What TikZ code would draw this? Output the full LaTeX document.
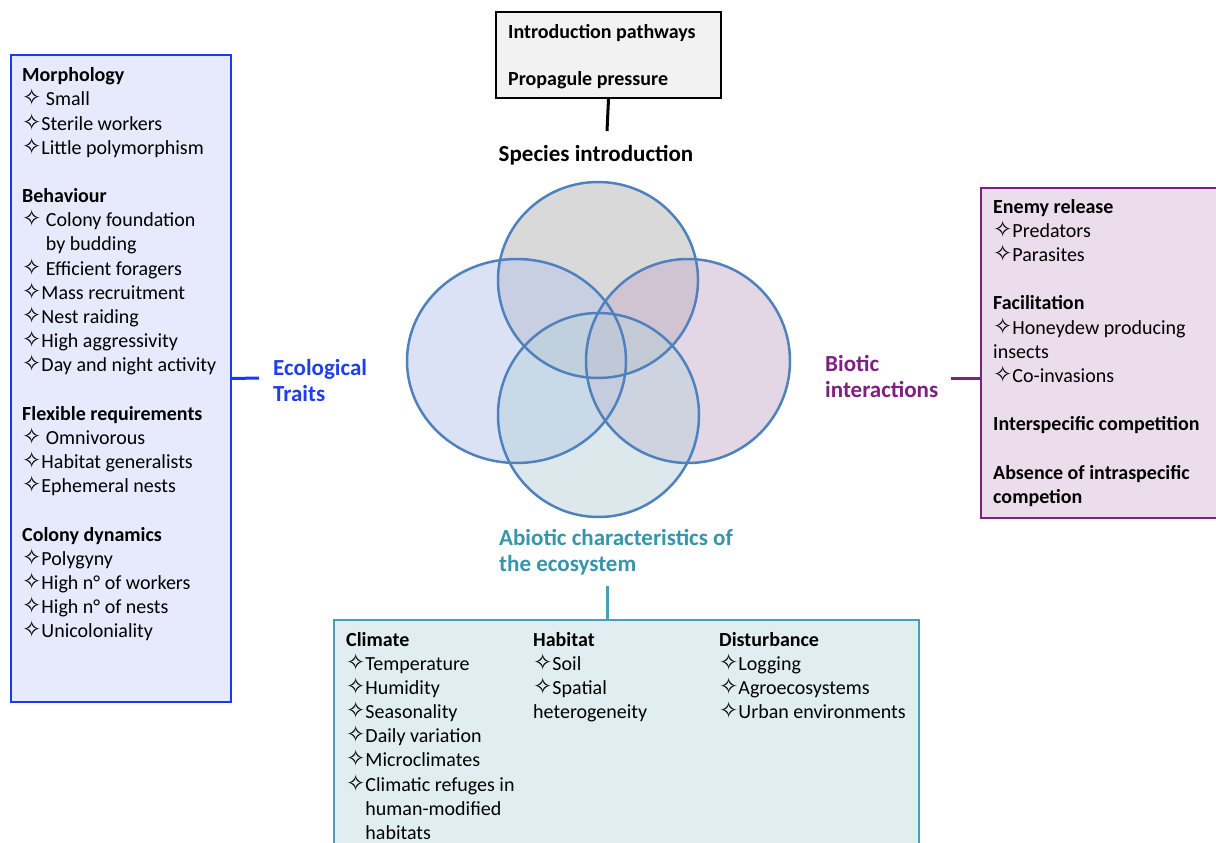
\documentclass[tikz,border=0pt]{standalone}
\usepackage{fontspec}
\setmainfont{Carlito}
\newfontfamily\symf[Scale=1.15]{DejaVu Sans}
\newcommand\st{{\symf\char"2727}}
\definecolor{ltfill}{HTML}{E6EAFC}
\definecolor{ltblue}{HTML}{1A3AF0}
\definecolor{lblblue}{HTML}{1E40E6}
\definecolor{rtfill}{HTML}{EBDDEC}
\definecolor{rtpurple}{HTML}{7E1F82}
\definecolor{btfill}{HTML}{E0EDF1}
\definecolor{btteal}{HTML}{4A9EB5}
\definecolor{lblteal}{HTML}{3595AA}
\definecolor{tpfill}{HTML}{F2F2F2}
\definecolor{circline}{HTML}{4F81BD}
\definecolor{cTop}{RGB}{179,179,179}
\definecolor{cLeft}{RGB}{185,197,235}
\definecolor{cRight}{RGB}{199,175,205}
\definecolor{cBot}{RGB}{185,209,217}
\tikzset{
  boxtext/.style={anchor=north west, inner sep=0pt, align=left, font=\fontsize{20}{24.15}\selectfont},
  bigtext/.style={anchor=north west, inner sep=0pt, align=left, font=\fontsize{23}{25.5}\selectfont\bfseries},
  panel/.style={anchor=north west, inner sep=0pt, line width=2pt},
  conn/.style={line width=3pt},
  venn/.style={draw=circline, line width=2.5pt},
  vennfill/.style={fill opacity=0.5},
}
\begin{document}
\begin{tikzpicture}[x=1pt,y=-1pt]
\useasboundingbox (0,0) rectangle (1216,843);

% ---------- Venn circles ----------
\fill[cTop,vennfill] (598,280) ellipse [x radius=100, y radius=98];
\fill[cLeft,vennfill] (516.5,361) ellipse [x radius=109.5, y radius=102];
\fill[cRight,vennfill] (688,361) ellipse [x radius=102, y radius=102];
\fill[cBot,vennfill] (598.5,415) ellipse [x radius=100.5, y radius=102];
\draw[venn] (598,280) ellipse [x radius=100, y radius=98];
\draw[venn] (516.5,361) ellipse [x radius=109.5, y radius=102];
\draw[venn] (688,361) ellipse [x radius=102, y radius=102];
\draw[venn] (598.5,415) ellipse [x radius=100.5, y radius=102];

% ---------- Top box ----------
\node[panel, draw=black, fill=tpfill, minimum width=225, minimum height=86] (topbox) at (495,11) {};
\node[boxtext, font=\fontsize{20}{24.15}\selectfont\bfseries] (tp1) at (508,24.5) {Introduction pathways};
\node[boxtext, font=\fontsize{20}{24.15}\selectfont\bfseries] (tp2) at (508,71.5) {Propagule pressure};
\node[bigtext, anchor=north] (spec) at (596,145) {Species introduction};
\coordinate (topend) at (607,131);
\draw[conn, black] (topbox.south) -- (topend);

% ---------- Left box ----------
\node[panel, draw=ltblue, fill=ltfill, minimum width=220, minimum height=647] (leftbox) at (10,54) {};
\node[boxtext] (lefttext) at (22,67.5) {%
\textbf{Morphology}\\
\st\ Small\\
\st Sterile workers\\
\st Little polymorphism\\[24.3pt]
\textbf{Behaviour}\\
\st\ Colony foundation\\
\phantom{\st\ }by budding\\
\st\ Efficient foragers\\
\st Mass recruitment\\
\st Nest raiding\\
\st High aggressivity\\
\st Day and night activity\\[24.3pt]
\textbf{Flexible requirements}\\
\st\ Omnivorous\\
\st Habitat generalists\\
\st Ephemeral nests\\[24.3pt]
\textbf{Colony dynamics}\\
\st Polygyny\\
\st High n° of workers\\
\st High n° of nests\\
\st Unicoloniality};
\node[bigtext, text=lblblue] (eco) at (273,359.5) {Ecological\\Traits};
\coordinate (ecoend) at (259,378);
\draw[conn, ltblue] (leftbox.east) -- (ecoend);

% ---------- Right box ----------
\node[panel, draw=rtpurple, fill=rtfill, minimum width=250, minimum height=330] (rightbox) at (980,187) {};
\node[boxtext] (righttext) at (993,199) {%
\textbf{Enemy release}\\
\st Predators\\
\st Parasites\\[24.3pt]
\textbf{Facilitation}\\
\st Honeydew producing\\
insects\\
\st Co-invasions\\[24.3pt]
\textbf{Interspecific competition}\\[24.3pt]
\textbf{Absence of intraspecific}\\
\textbf{competion}};
\node[bigtext, text=rtpurple] (bio) at (825,355.5) {Biotic\\interactions};
\coordinate (bioend) at (951,378);
\coordinate (biobox) at (980,378);
\draw[conn, rtpurple] (bioend) -- (biobox);

% ---------- Bottom box ----------
\node[panel, draw=btteal, fill=btfill, minimum width=585, minimum height=250] (botbox) at (333,619) {};
\node[boxtext] (clim) at (346,632) {%
\textbf{Climate}\\
\st Temperature\\
\st Humidity\\
\st Seasonality\\
\st Daily variation\\
\st Microclimates\\
\st Climatic refuges in\\
\phantom{\st}human-modified\\
\phantom{\st}habitats};
\node[boxtext] (hab) at (533,632) {%
\textbf{Habitat}\\
\st Soil\\
\st Spatial\\
heterogeneity};
\node[boxtext] (dist) at (719,632) {%
\textbf{Disturbance}\\
\st Logging\\
\st Agroecosystems\\
\st Urban environments};
\node[bigtext, text=lblteal] (abio) at (499,529.5) {Abiotic characteristics of\\the ecosystem};
\coordinate (abioend) at (607,586);
\coordinate (botin) at (607,619);
\draw[conn, btteal] (abioend) -- (botin);
\end{tikzpicture}
\end{document}
